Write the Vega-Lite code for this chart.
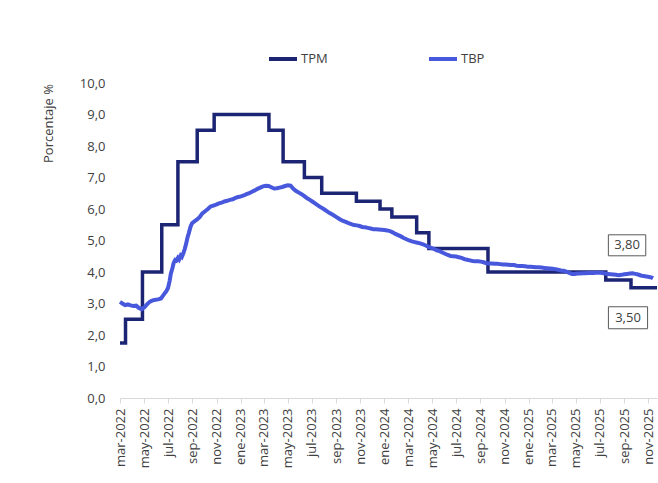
{
  "$schema": "https://vega.github.io/schema/vega-lite/v6.json",
  "autosize": {"type": "none"},
  "width": 537,
  "height": 315,
  "padding": {"left": 120, "top": 83, "right": 1, "bottom": 85},
  "background": "white",
  "config": {
    "view": {"stroke": null},
    "font": "Open Sans"
  },
  "datasets": {
    "tasas": [
      {"serie": "TPM", "fecha": "2022-03-01", "valor": 1.75},
      {"serie": "TPM", "fecha": "2022-03-15", "valor": 2.5},
      {"serie": "TPM", "fecha": "2022-04-27", "valor": 4.0},
      {"serie": "TPM", "fecha": "2022-06-15", "valor": 5.5},
      {"serie": "TPM", "fecha": "2022-07-26", "valor": 7.5},
      {"serie": "TPM", "fecha": "2022-09-13", "valor": 8.5},
      {"serie": "TPM", "fecha": "2022-10-26", "valor": 9.0},
      {"serie": "TPM", "fecha": "2023-03-14", "valor": 8.5},
      {"serie": "TPM", "fecha": "2023-04-19", "valor": 7.5},
      {"serie": "TPM", "fecha": "2023-06-12", "valor": 7.0},
      {"serie": "TPM", "fecha": "2023-07-26", "valor": 6.5},
      {"serie": "TPM", "fecha": "2023-10-22", "valor": 6.25},
      {"serie": "TPM", "fecha": "2023-12-21", "valor": 6.0},
      {"serie": "TPM", "fecha": "2024-01-20", "valor": 5.75},
      {"serie": "TPM", "fecha": "2024-03-23", "valor": 5.25},
      {"serie": "TPM", "fecha": "2024-04-23", "valor": 4.75},
      {"serie": "TPM", "fecha": "2024-09-20", "valor": 4.0},
      {"serie": "TPM", "fecha": "2025-07-16", "valor": 3.75},
      {"serie": "TPM", "fecha": "2025-09-18", "valor": 3.5},
      {"serie": "TPM", "fecha": "2025-11-23", "valor": 3.5},
      {"serie": "TBP", "fecha": "2022-03-01", "valor": 3.05},
      {"serie": "TBP", "fecha": "2022-03-07", "valor": 3.00},
      {"serie": "TBP", "fecha": "2022-03-14", "valor": 2.95},
      {"serie": "TBP", "fecha": "2022-03-21", "valor": 2.97},
      {"serie": "TBP", "fecha": "2022-03-28", "valor": 2.94},
      {"serie": "TBP", "fecha": "2022-04-04", "valor": 2.92},
      {"serie": "TBP", "fecha": "2022-04-11", "valor": 2.93},
      {"serie": "TBP", "fecha": "2022-04-18", "valor": 2.86},
      {"serie": "TBP", "fecha": "2022-04-25", "valor": 2.82},
      {"serie": "TBP", "fecha": "2022-05-02", "valor": 2.88},
      {"serie": "TBP", "fecha": "2022-05-09", "valor": 2.98},
      {"serie": "TBP", "fecha": "2022-05-16", "valor": 3.06},
      {"serie": "TBP", "fecha": "2022-05-23", "valor": 3.10},
      {"serie": "TBP", "fecha": "2022-05-30", "valor": 3.12},
      {"serie": "TBP", "fecha": "2022-06-06", "valor": 3.13},
      {"serie": "TBP", "fecha": "2022-06-13", "valor": 3.16},
      {"serie": "TBP", "fecha": "2022-06-20", "valor": 3.28},
      {"serie": "TBP", "fecha": "2022-06-27", "valor": 3.40},
      {"serie": "TBP", "fecha": "2022-07-01", "valor": 3.50},
      {"serie": "TBP", "fecha": "2022-07-05", "valor": 3.72},
      {"serie": "TBP", "fecha": "2022-07-08", "valor": 3.95},
      {"serie": "TBP", "fecha": "2022-07-12", "valor": 4.12},
      {"serie": "TBP", "fecha": "2022-07-15", "valor": 4.28},
      {"serie": "TBP", "fecha": "2022-07-19", "valor": 4.38},
      {"serie": "TBP", "fecha": "2022-07-22", "valor": 4.36},
      {"serie": "TBP", "fecha": "2022-07-26", "valor": 4.45},
      {"serie": "TBP", "fecha": "2022-07-29", "valor": 4.40},
      {"serie": "TBP", "fecha": "2022-08-02", "valor": 4.52},
      {"serie": "TBP", "fecha": "2022-08-05", "valor": 4.48},
      {"serie": "TBP", "fecha": "2022-08-09", "valor": 4.60},
      {"serie": "TBP", "fecha": "2022-08-12", "valor": 4.72},
      {"serie": "TBP", "fecha": "2022-08-16", "valor": 4.90},
      {"serie": "TBP", "fecha": "2022-08-19", "valor": 5.08},
      {"serie": "TBP", "fecha": "2022-08-23", "valor": 5.25},
      {"serie": "TBP", "fecha": "2022-08-27", "valor": 5.44},
      {"serie": "TBP", "fecha": "2022-08-31", "valor": 5.55},
      {"serie": "TBP", "fecha": "2022-09-05", "valor": 5.60},
      {"serie": "TBP", "fecha": "2022-09-12", "valor": 5.66},
      {"serie": "TBP", "fecha": "2022-09-19", "valor": 5.74},
      {"serie": "TBP", "fecha": "2022-09-26", "valor": 5.86},
      {"serie": "TBP", "fecha": "2022-10-03", "valor": 5.93},
      {"serie": "TBP", "fecha": "2022-10-10", "valor": 6.00},
      {"serie": "TBP", "fecha": "2022-10-17", "valor": 6.08},
      {"serie": "TBP", "fecha": "2022-10-24", "valor": 6.11},
      {"serie": "TBP", "fecha": "2022-10-31", "valor": 6.14},
      {"serie": "TBP", "fecha": "2022-11-07", "valor": 6.18},
      {"serie": "TBP", "fecha": "2022-11-14", "valor": 6.20},
      {"serie": "TBP", "fecha": "2022-11-21", "valor": 6.24},
      {"serie": "TBP", "fecha": "2022-11-28", "valor": 6.26},
      {"serie": "TBP", "fecha": "2022-12-05", "valor": 6.29},
      {"serie": "TBP", "fecha": "2022-12-12", "valor": 6.31},
      {"serie": "TBP", "fecha": "2022-12-19", "valor": 6.35},
      {"serie": "TBP", "fecha": "2022-12-26", "valor": 6.38},
      {"serie": "TBP", "fecha": "2023-01-02", "valor": 6.40},
      {"serie": "TBP", "fecha": "2023-01-09", "valor": 6.43},
      {"serie": "TBP", "fecha": "2023-01-16", "valor": 6.47},
      {"serie": "TBP", "fecha": "2023-01-23", "valor": 6.50},
      {"serie": "TBP", "fecha": "2023-01-30", "valor": 6.55},
      {"serie": "TBP", "fecha": "2023-02-06", "valor": 6.59},
      {"serie": "TBP", "fecha": "2023-02-13", "valor": 6.64},
      {"serie": "TBP", "fecha": "2023-02-20", "valor": 6.68},
      {"serie": "TBP", "fecha": "2023-02-27", "valor": 6.72},
      {"serie": "TBP", "fecha": "2023-03-06", "valor": 6.74},
      {"serie": "TBP", "fecha": "2023-03-13", "valor": 6.73},
      {"serie": "TBP", "fecha": "2023-03-20", "valor": 6.69},
      {"serie": "TBP", "fecha": "2023-03-27", "valor": 6.65},
      {"serie": "TBP", "fecha": "2023-04-03", "valor": 6.66},
      {"serie": "TBP", "fecha": "2023-04-10", "valor": 6.68},
      {"serie": "TBP", "fecha": "2023-04-17", "valor": 6.70},
      {"serie": "TBP", "fecha": "2023-04-24", "valor": 6.73},
      {"serie": "TBP", "fecha": "2023-05-01", "valor": 6.75},
      {"serie": "TBP", "fecha": "2023-05-08", "valor": 6.74},
      {"serie": "TBP", "fecha": "2023-05-15", "valor": 6.64},
      {"serie": "TBP", "fecha": "2023-05-22", "valor": 6.57},
      {"serie": "TBP", "fecha": "2023-05-29", "valor": 6.52},
      {"serie": "TBP", "fecha": "2023-06-05", "valor": 6.47},
      {"serie": "TBP", "fecha": "2023-06-12", "valor": 6.41},
      {"serie": "TBP", "fecha": "2023-06-19", "valor": 6.34},
      {"serie": "TBP", "fecha": "2023-06-26", "valor": 6.29},
      {"serie": "TBP", "fecha": "2023-07-03", "valor": 6.23},
      {"serie": "TBP", "fecha": "2023-07-10", "valor": 6.17},
      {"serie": "TBP", "fecha": "2023-07-17", "valor": 6.11},
      {"serie": "TBP", "fecha": "2023-07-24", "valor": 6.05},
      {"serie": "TBP", "fecha": "2023-07-31", "valor": 6.00},
      {"serie": "TBP", "fecha": "2023-08-07", "valor": 5.94},
      {"serie": "TBP", "fecha": "2023-08-14", "valor": 5.88},
      {"serie": "TBP", "fecha": "2023-08-21", "valor": 5.83},
      {"serie": "TBP", "fecha": "2023-08-28", "valor": 5.78},
      {"serie": "TBP", "fecha": "2023-09-04", "valor": 5.72},
      {"serie": "TBP", "fecha": "2023-09-11", "valor": 5.67},
      {"serie": "TBP", "fecha": "2023-09-18", "valor": 5.62},
      {"serie": "TBP", "fecha": "2023-09-25", "valor": 5.59},
      {"serie": "TBP", "fecha": "2023-10-02", "valor": 5.55},
      {"serie": "TBP", "fecha": "2023-10-09", "valor": 5.52},
      {"serie": "TBP", "fecha": "2023-10-16", "valor": 5.49},
      {"serie": "TBP", "fecha": "2023-10-23", "valor": 5.48},
      {"serie": "TBP", "fecha": "2023-10-30", "valor": 5.46},
      {"serie": "TBP", "fecha": "2023-11-06", "valor": 5.43},
      {"serie": "TBP", "fecha": "2023-11-13", "valor": 5.42},
      {"serie": "TBP", "fecha": "2023-11-20", "valor": 5.40},
      {"serie": "TBP", "fecha": "2023-11-27", "valor": 5.38},
      {"serie": "TBP", "fecha": "2023-12-04", "valor": 5.36},
      {"serie": "TBP", "fecha": "2023-12-11", "valor": 5.36},
      {"serie": "TBP", "fecha": "2023-12-18", "valor": 5.35},
      {"serie": "TBP", "fecha": "2023-12-25", "valor": 5.34},
      {"serie": "TBP", "fecha": "2024-01-01", "valor": 5.33},
      {"serie": "TBP", "fecha": "2024-01-08", "valor": 5.32},
      {"serie": "TBP", "fecha": "2024-01-15", "valor": 5.30},
      {"serie": "TBP", "fecha": "2024-01-22", "valor": 5.26},
      {"serie": "TBP", "fecha": "2024-01-29", "valor": 5.21},
      {"serie": "TBP", "fecha": "2024-02-05", "valor": 5.17},
      {"serie": "TBP", "fecha": "2024-02-12", "valor": 5.13},
      {"serie": "TBP", "fecha": "2024-02-19", "valor": 5.08},
      {"serie": "TBP", "fecha": "2024-02-26", "valor": 5.04},
      {"serie": "TBP", "fecha": "2024-03-04", "valor": 5.00},
      {"serie": "TBP", "fecha": "2024-03-11", "valor": 4.97},
      {"serie": "TBP", "fecha": "2024-03-18", "valor": 4.95},
      {"serie": "TBP", "fecha": "2024-03-25", "valor": 4.93},
      {"serie": "TBP", "fecha": "2024-04-01", "valor": 4.91},
      {"serie": "TBP", "fecha": "2024-04-08", "valor": 4.88},
      {"serie": "TBP", "fecha": "2024-04-15", "valor": 4.84},
      {"serie": "TBP", "fecha": "2024-04-22", "valor": 4.80},
      {"serie": "TBP", "fecha": "2024-04-29", "valor": 4.77},
      {"serie": "TBP", "fecha": "2024-05-06", "valor": 4.73},
      {"serie": "TBP", "fecha": "2024-05-13", "valor": 4.69},
      {"serie": "TBP", "fecha": "2024-05-20", "valor": 4.66},
      {"serie": "TBP", "fecha": "2024-05-27", "valor": 4.62},
      {"serie": "TBP", "fecha": "2024-06-03", "valor": 4.58},
      {"serie": "TBP", "fecha": "2024-06-10", "valor": 4.54},
      {"serie": "TBP", "fecha": "2024-06-17", "valor": 4.51},
      {"serie": "TBP", "fecha": "2024-06-24", "valor": 4.50},
      {"serie": "TBP", "fecha": "2024-07-01", "valor": 4.49},
      {"serie": "TBP", "fecha": "2024-07-08", "valor": 4.47},
      {"serie": "TBP", "fecha": "2024-07-15", "valor": 4.45},
      {"serie": "TBP", "fecha": "2024-07-22", "valor": 4.41},
      {"serie": "TBP", "fecha": "2024-07-29", "valor": 4.39},
      {"serie": "TBP", "fecha": "2024-08-05", "valor": 4.37},
      {"serie": "TBP", "fecha": "2024-08-12", "valor": 4.35},
      {"serie": "TBP", "fecha": "2024-08-19", "valor": 4.34},
      {"serie": "TBP", "fecha": "2024-08-26", "valor": 4.34},
      {"serie": "TBP", "fecha": "2024-09-02", "valor": 4.33},
      {"serie": "TBP", "fecha": "2024-09-09", "valor": 4.31},
      {"serie": "TBP", "fecha": "2024-09-16", "valor": 4.28},
      {"serie": "TBP", "fecha": "2024-09-23", "valor": 4.27},
      {"serie": "TBP", "fecha": "2024-09-30", "valor": 4.27},
      {"serie": "TBP", "fecha": "2024-10-07", "valor": 4.26},
      {"serie": "TBP", "fecha": "2024-10-14", "valor": 4.26},
      {"serie": "TBP", "fecha": "2024-10-21", "valor": 4.25},
      {"serie": "TBP", "fecha": "2024-10-28", "valor": 4.24},
      {"serie": "TBP", "fecha": "2024-11-04", "valor": 4.24},
      {"serie": "TBP", "fecha": "2024-11-11", "valor": 4.23},
      {"serie": "TBP", "fecha": "2024-11-18", "valor": 4.22},
      {"serie": "TBP", "fecha": "2024-11-25", "valor": 4.22},
      {"serie": "TBP", "fecha": "2024-12-02", "valor": 4.20},
      {"serie": "TBP", "fecha": "2024-12-09", "valor": 4.19},
      {"serie": "TBP", "fecha": "2024-12-16", "valor": 4.19},
      {"serie": "TBP", "fecha": "2024-12-23", "valor": 4.18},
      {"serie": "TBP", "fecha": "2024-12-30", "valor": 4.17},
      {"serie": "TBP", "fecha": "2025-01-06", "valor": 4.17},
      {"serie": "TBP", "fecha": "2025-01-13", "valor": 4.16},
      {"serie": "TBP", "fecha": "2025-01-20", "valor": 4.15},
      {"serie": "TBP", "fecha": "2025-01-27", "valor": 4.15},
      {"serie": "TBP", "fecha": "2025-02-03", "valor": 4.14},
      {"serie": "TBP", "fecha": "2025-02-10", "valor": 4.13},
      {"serie": "TBP", "fecha": "2025-02-17", "valor": 4.12},
      {"serie": "TBP", "fecha": "2025-02-24", "valor": 4.11},
      {"serie": "TBP", "fecha": "2025-03-03", "valor": 4.10},
      {"serie": "TBP", "fecha": "2025-03-10", "valor": 4.09},
      {"serie": "TBP", "fecha": "2025-03-17", "valor": 4.07},
      {"serie": "TBP", "fecha": "2025-03-24", "valor": 4.05},
      {"serie": "TBP", "fecha": "2025-03-31", "valor": 4.04},
      {"serie": "TBP", "fecha": "2025-04-07", "valor": 4.01},
      {"serie": "TBP", "fecha": "2025-04-14", "valor": 3.97},
      {"serie": "TBP", "fecha": "2025-04-21", "valor": 3.94},
      {"serie": "TBP", "fecha": "2025-04-28", "valor": 3.94},
      {"serie": "TBP", "fecha": "2025-05-05", "valor": 3.95},
      {"serie": "TBP", "fecha": "2025-05-12", "valor": 3.95},
      {"serie": "TBP", "fecha": "2025-05-19", "valor": 3.96},
      {"serie": "TBP", "fecha": "2025-05-26", "valor": 3.96},
      {"serie": "TBP", "fecha": "2025-06-02", "valor": 3.97},
      {"serie": "TBP", "fecha": "2025-06-09", "valor": 3.97},
      {"serie": "TBP", "fecha": "2025-06-16", "valor": 3.97},
      {"serie": "TBP", "fecha": "2025-06-23", "valor": 3.98},
      {"serie": "TBP", "fecha": "2025-06-30", "valor": 3.98},
      {"serie": "TBP", "fecha": "2025-07-07", "valor": 3.97},
      {"serie": "TBP", "fecha": "2025-07-14", "valor": 3.95},
      {"serie": "TBP", "fecha": "2025-07-21", "valor": 3.94},
      {"serie": "TBP", "fecha": "2025-07-28", "valor": 3.93},
      {"serie": "TBP", "fecha": "2025-08-04", "valor": 3.92},
      {"serie": "TBP", "fecha": "2025-08-11", "valor": 3.91},
      {"serie": "TBP", "fecha": "2025-08-18", "valor": 3.90},
      {"serie": "TBP", "fecha": "2025-08-25", "valor": 3.91},
      {"serie": "TBP", "fecha": "2025-09-01", "valor": 3.93},
      {"serie": "TBP", "fecha": "2025-09-08", "valor": 3.94},
      {"serie": "TBP", "fecha": "2025-09-15", "valor": 3.95},
      {"serie": "TBP", "fecha": "2025-09-22", "valor": 3.96},
      {"serie": "TBP", "fecha": "2025-09-29", "valor": 3.94},
      {"serie": "TBP", "fecha": "2025-10-06", "valor": 3.92},
      {"serie": "TBP", "fecha": "2025-10-13", "valor": 3.89},
      {"serie": "TBP", "fecha": "2025-10-20", "valor": 3.87},
      {"serie": "TBP", "fecha": "2025-10-27", "valor": 3.86},
      {"serie": "TBP", "fecha": "2025-11-03", "valor": 3.84},
      {"serie": "TBP", "fecha": "2025-11-10", "valor": 3.82},
      {"serie": "TBP", "fecha": "2025-11-13", "valor": 3.80}
    ]
  },
  "data": {"name": "tasas"},
  "encoding": {
    "x": {
      "field": "fecha",
      "type": "temporal",
      "scale": {
        "type": "utc",
        "domain": [{"year": 2022, "month": 3, "date": 1, "utc": true}, {"year": 2025, "month": 11, "date": 23, "utc": true}],
        "nice": false
      },
      "axis": {
        "title": null,
        "values": [
          {"year": 2022, "month": 3, "date": 1, "utc": true},
          {"year": 2022, "month": 5, "date": 1, "utc": true},
          {"year": 2022, "month": 7, "date": 1, "utc": true},
          {"year": 2022, "month": 9, "date": 1, "utc": true},
          {"year": 2022, "month": 11, "date": 1, "utc": true},
          {"year": 2023, "month": 1, "date": 1, "utc": true},
          {"year": 2023, "month": 3, "date": 1, "utc": true},
          {"year": 2023, "month": 5, "date": 1, "utc": true},
          {"year": 2023, "month": 7, "date": 1, "utc": true},
          {"year": 2023, "month": 9, "date": 1, "utc": true},
          {"year": 2023, "month": 11, "date": 1, "utc": true},
          {"year": 2024, "month": 1, "date": 1, "utc": true},
          {"year": 2024, "month": 3, "date": 1, "utc": true},
          {"year": 2024, "month": 5, "date": 1, "utc": true},
          {"year": 2024, "month": 7, "date": 1, "utc": true},
          {"year": 2024, "month": 9, "date": 1, "utc": true},
          {"year": 2024, "month": 11, "date": 1, "utc": true},
          {"year": 2025, "month": 1, "date": 1, "utc": true},
          {"year": 2025, "month": 3, "date": 1, "utc": true},
          {"year": 2025, "month": 5, "date": 1, "utc": true},
          {"year": 2025, "month": 7, "date": 1, "utc": true},
          {"year": 2025, "month": 9, "date": 1, "utc": true},
          {"year": 2025, "month": 11, "date": 1, "utc": true}
        ],
        "labelExpr": "['ene','feb','mar','abr','may','jun','jul','ago','sep','oct','nov','dic'][utcmonth(datum.value)] + '-' + utcyear(datum.value)",
        "labelAngle": -90,
        "labelAlign": "right",
        "labelBaseline": "middle",
        "labelFontSize": 13,
        "labelColor": "#404040",
        "labelPadding": 5,
        "labelOverlap": false,
        "labelFlush": false,
        "tickSize": 5,
        "tickColor": "#d9d9d9",
        "domainColor": "#d9d9d9",
        "grid": false
      }
    },
    "y": {
      "field": "valor",
      "type": "quantitative",
      "scale": {"domain": [0, 10], "nice": false, "zero": true},
      "axis": {
        "title": "Porcentaje %",
        "titleFontSize": 13,
        "titleFontWeight": "normal",
        "titleColor": "#404040",
        "titleAngle": -90,
        "titleX": -72,
        "titleY": 40,
        "titleAlign": "center",
        "titleBaseline": "middle",
        "values": [0, 1, 2, 3, 4, 5, 6, 7, 8, 9, 10],
        "labelExpr": "replace(format(datum.value, '.1f'), '.', ',')",
        "labelFontSize": 13,
        "labelColor": "#404040",
        "labelPadding": 15,
        "ticks": false,
        "tickSize": 0,
        "domain": false,
        "grid": false
      }
    }
  },
  "layer": [
    {
      "transform": [{"filter": "datum.serie === 'TPM'"}],
      "mark": {"type": "line", "interpolate": "step-after", "strokeWidth": 3.5},
      "encoding": {
        "color": {
          "field": "serie",
          "type": "nominal",
          "scale": {"domain": ["TPM", "TBP"], "range": ["#1c2573", "#4858dc"]},
          "legend": {
            "title": null,
            "orient": "none",
            "direction": "horizontal",
            "legendX": 147,
            "legendY": -40,
            "symbolType": "stroke",
            "symbolSize": 784,
            "symbolStrokeWidth": 4,
            "labelFontSize": 13,
            "labelColor": "#404040",
            "labelOffset": 2,
            "columnPadding": 93
          }
        }
      }
    },
    {
      "transform": [{"filter": "datum.serie === 'TBP'"}],
      "mark": {"type": "line", "strokeWidth": 4},
      "encoding": {
        "color": {"field": "serie", "type": "nominal"}
      }
    },
    {
      "transform": [
        {"filter": "datum.serie === 'TBP'"},
        {"filter": {"field": "fecha", "equal": {"year": 2025, "month": 11, "date": 13, "utc": true}}}
      ],
      "layer": [
        {
          "mark": {"type": "point", "shape": "M-1.78,-1H1.78V1H-1.78Z", "size": 441, "filled": false, "color": "#595959", "strokeWidth": 1, "opacity": 1, "xOffset": -26, "yOffset": -33}
        },
        {
          "mark": {"type": "text", "fontSize": 13, "color": "#404040", "xOffset": -26, "yOffset": -33, "align": "center", "baseline": "middle", "text": {"expr": "replace(format(datum.valor, '.2f'), '.', ',')"}}
        }
      ]
    },
    {
      "transform": [
        {"filter": "datum.serie === 'TPM'"},
        {"filter": {"field": "fecha", "equal": {"year": 2025, "month": 11, "date": 23, "utc": true}}}
      ],
      "layer": [
        {
          "mark": {"type": "point", "shape": "M-1.78,-1H1.78V1H-1.78Z", "size": 484, "filled": false, "color": "#595959", "strokeWidth": 1, "opacity": 1, "xOffset": -29, "yOffset": 30}
        },
        {
          "mark": {"type": "text", "fontSize": 13, "color": "#404040", "xOffset": -29, "yOffset": 30, "align": "center", "baseline": "middle", "text": {"expr": "replace(format(datum.valor, '.2f'), '.', ',')"}}
        }
      ]
    }
  ]
}
